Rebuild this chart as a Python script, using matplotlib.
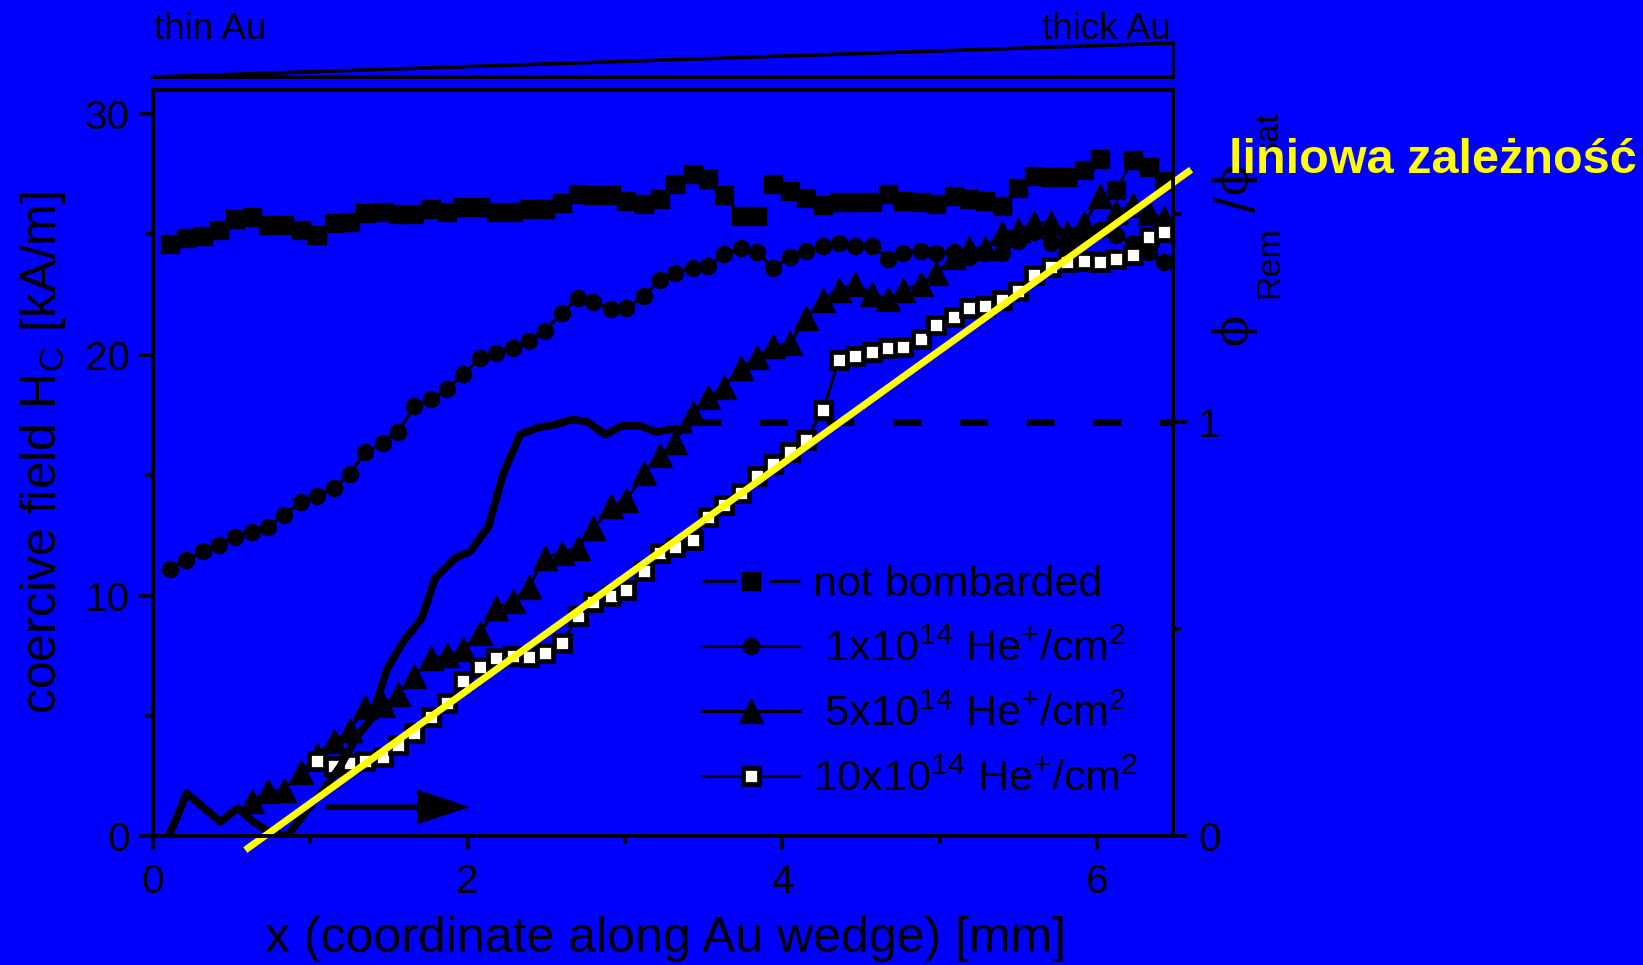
import matplotlib
matplotlib.use("Agg")
import matplotlib.pyplot as plt
from matplotlib import transforms

plt.rcParams["font.family"] = ["Liberation Sans", "DejaVu Sans"]
plt.rcParams["mathtext.fontset"] = "custom"
plt.rcParams["mathtext.rm"] = "Liberation Sans"
plt.rcParams["mathtext.sf"] = "Liberation Sans"
plt.rcParams["mathtext.bf"] = "Liberation Sans:bold"
plt.rcParams["mathtext.it"] = "Liberation Sans:italic"

BLUE = "#0000FF"
YELLOW = "#FFFF00"

# measurement positions along the wedge [mm]
x_pos = [0.11, 0.21, 0.32, 0.42, 0.52, 0.63, 0.73, 0.83, 0.94, 1.04,
         1.15, 1.25, 1.35, 1.46, 1.56, 1.66, 1.77, 1.87, 1.97, 2.08,
         2.18, 2.29, 2.39, 2.49, 2.60, 2.70, 2.80, 2.91, 3.01, 3.12,
         3.22, 3.32, 3.43, 3.53, 3.63, 3.74, 3.84, 3.94, 4.05, 4.15,
         4.26, 4.36, 4.46, 4.57, 4.67, 4.77, 4.88, 4.98, 5.09, 5.19,
         5.29, 5.40, 5.50, 5.60, 5.71, 5.81, 5.92, 6.02, 6.12, 6.23,
         6.33, 6.43]

# coercive field H_C [kA/m]
hc_unbombarded = [24.60, 24.86, 24.94, 25.17, 25.64, 25.71, 25.39, 25.39, 25.17, 24.99,
                  25.46, 25.51, 25.89, 25.95, 25.86, 25.86, 26.04, 25.95, 26.12, 26.12,
                  25.94, 25.95, 26.07, 26.07, 26.29, 26.70, 26.65, 26.65, 26.37, 26.27,
                  26.46, 27.10, 27.53, 27.31, 26.62, 25.77, 25.77, 27.09, 26.81, 26.51,
                  26.23, 26.33, 26.33, 26.33, 26.68, 26.37, 26.33, 26.26, 26.58, 26.48,
                  26.40, 26.18, 26.93, 27.41, 27.37, 27.37, 27.67, 28.14, 26.86, 28.10,
                  27.82, 27.20]

hc_dose1 = [11.10, 11.48, 11.84, 12.11, 12.43, 12.66, 12.85, 13.34, 13.88, 14.14,
            14.45, 15.04, 15.96, 16.33, 16.81, 17.88, 18.16, 18.57, 19.20, 19.86,
            20.07, 20.30, 20.58, 21.01, 21.73, 22.38, 22.21, 21.90, 21.94, 22.45,
            23.09, 23.42, 23.61, 23.71, 24.17, 24.42, 24.27, 23.61, 24.06, 24.32,
            24.53, 24.64, 24.53, 24.53, 24.00, 24.25, 24.32, 24.22, 24.27, 24.06,
            24.25, 24.25, 24.71, 25.10, 24.64, 24.50, 24.90, 25.19, 24.96, 24.64,
            24.29, 23.84]

# 5e14 series starts at the 6th position, 10e14 series at the 10th
hc_dose5 = [1.46, 1.90, 1.93, 2.67, 3.40, 3.95, 4.42, 5.36, 5.46, 5.90,
            6.66, 7.40, 7.54, 7.77, 8.44, 9.50, 9.78, 10.37, 11.58, 11.79,
            11.99, 12.80, 13.73, 13.98, 15.08, 15.82, 16.40, 17.60, 18.27, 18.68,
            19.45, 19.93, 20.35, 20.49, 21.52, 22.29, 22.70, 22.95, 22.53, 22.31,
            22.70, 22.94, 23.39, 24.08, 24.43, 24.43, 25.06, 25.19, 25.47, 25.47,
            25.08, 25.47, 26.58, 25.95, 26.23, 25.89, 25.68]

hc_dose10 = [3.12, 2.93, 3.04, 3.13, 3.30, 3.78, 4.31, 4.97, 5.53, 6.47,
             7.05, 7.40, 7.50, 7.47, 7.63, 8.05, 9.15, 9.75, 10.00, 10.24,
             11.02, 11.76, 12.04, 12.33, 13.28, 13.77, 14.25, 14.98, 15.47, 15.95,
             16.45, 17.71, 19.79, 19.96, 20.11, 20.28, 20.32, 20.65, 21.22, 21.57,
             21.94, 22.04, 22.29, 22.67, 23.32, 23.64, 23.84, 23.91, 23.84, 23.98,
             24.15, 24.89, 25.10]

# remanence ratio Phi_Rem / Phi_sat (right axis)
ratio_x = [0.10, 0.215, 0.32, 0.428, 0.537, 0.637, 0.734, 0.85, 0.977, 1.083,
           1.189, 1.295, 1.39, 1.486, 1.591, 1.708, 1.793, 1.92, 2.015, 2.132,
           2.227, 2.333, 2.439, 2.556, 2.662, 2.757, 2.874, 2.98, 3.096, 3.202,
           3.29, 3.40]
ratio_y = [0.0, 0.104, 0.070, 0.035, 0.068, 0.035, 0.012, 0.0, 0.062, 0.112,
           0.168, 0.241, 0.285, 0.402, 0.470, 0.526, 0.623, 0.671, 0.687, 0.747,
           0.876, 0.969, 0.985, 0.993, 1.005, 1.001, 0.969, 0.990, 0.990, 0.975,
           0.982, 0.980]
saturation_x = [3.433, 6.49]
saturation_y = [1.0, 1.0]

# linear dependence guide
fit_x = [0.587, 6.599]
fit_y = [-0.565, 27.69]

# scan direction arrow
arrow_start = 1.094
arrow_end = 2.015
arrow_level = 1.22

labels = ["not bombarded",
          r" $\mathrm{1x10^{14}\ He^{+}/cm^{2}}$",
          r" $\mathrm{5x10^{14}\ He^{+}/cm^{2}}$",
          r"$\mathrm{10x10^{14}\ He^{+}/cm^{2}}$"]

W, H = 1643, 965
fig = plt.figure(figsize=(W / 100, H / 100), dpi=100, facecolor=BLUE)
ax = fig.add_axes([153 / W, 1 - 836.4 / H, (1173.3 - 153) / W, (836.4 - 90) / H])
ax.set_facecolor(BLUE)
ax2 = ax.twinx()
ax2.set_ylim(0, 1.8)

ratio_tr = transforms.blended_transform_factory(ax.transData, ax2.transData)

l1, = ax.plot(x_pos, hc_unbombarded, color="k", lw=2, dashes=(12.6, 11.5),
              marker="s", ms=13.5, mfc="k", mec="k", mew=1, zorder=3)
l2, = ax.plot(x_pos, hc_dose1, color="k", lw=2.2, marker="o", ms=11.5,
              mfc="k", mec="k", mew=1, zorder=3.1)
l3, = ax.plot(x_pos[5:], hc_dose5, color="k", lw=2.2, marker="^", ms=17,
              mfc="k", mec="k", mew=1, zorder=3.2)
l4, = ax.plot(x_pos[9:], hc_dose10, color="k", lw=2.2, marker="s", ms=12,
              mfc="white", mec="k", mew=3.4, zorder=3.3)

ax.plot(ratio_x, ratio_y, color="k", lw=5.5, transform=ratio_tr, zorder=3.5)
ax.plot(saturation_x, saturation_y, color="k", lw=5, dashes=(4.0, 5.6),
        transform=ratio_tr, zorder=3.5, clip_on=False)

ax.arrow(arrow_start, arrow_level, arrow_end - arrow_start, 0, width=0.22,
         head_width=1.45, head_length=0.337, length_includes_head=True,
         fc="k", ec="k", lw=0, zorder=3.6)

ax.plot(fit_x, fit_y, color=YELLOW, lw=5, solid_capstyle="butt",
        clip_on=False, zorder=6)

ax.set_xlim(0, 6.486)
ax.set_ylim(0, 31)
ax.set_xticks([0, 2, 4, 6])
ax.set_xticks([1, 3, 5], minor=True)
ax.set_yticks([0, 10, 20, 30])
ax.set_yticks([5, 15, 25], minor=True)
ax2.set_yticks([0, 1])
ax2.set_yticks([0.5, 1.5], minor=True)

for a in (ax, ax2):
    a.tick_params(which="both", direction="out", width=2.6, color="k",
                  labelsize=29, labelcolor="k")
    a.tick_params(which="major", length=10)
    a.tick_params(which="minor", length=5.5)
    for s in a.spines.values():
        s.set_linewidth(2.8)
        s.set_color("k")
ax.tick_params(axis="y", pad=7, right=False)
ax.tick_params(axis="x", pad=9, top=False)
ax2.tick_params(axis="y", pad=8)
ax2.set_yticklabels(["0", "1"])

ax.set_xlabel("x (coordinate along Au wedge) [mm]", fontsize=36)
ax.xaxis.label.set_va("baseline")
ax.xaxis.set_label_coords(0.502, -0.1545)
ax.set_ylabel(r"coercive field $\mathrm{H_C}$ [kA/m]", fontsize=36)
ax.yaxis.set_label_coords(-0.0832, 0.5137)

# right-hand axis title, built piece by piece: phi_Rem / phi_sat
def rtext(px, py, s, size, family=None):
    kw = dict(rotation=90, ha="center", va="baseline", fontsize=size,
              rotation_mode="anchor")
    if family:
        kw["family"] = family
    fig.text(px / W, 1 - py / H, s, **kw)

phi_font = ["DejaVu Serif"]
rtext(1246, 329.5, "\u03d5", 33, phi_font)
rtext(1278, 262, "Rem", 24.5)
rtext(1255, 204.5, "/", 40)
rtext(1246, 178.5, "\u03d5", 33, phi_font)
rtext(1278, 135, "sat", 24.5)

# Au wedge sketch above the frame
ax.plot([0, 1], [1.0174, 1.0629], color="k", lw=2.6, transform=ax.transAxes, clip_on=False)
ax.plot([0, 1], [1.0174, 1.0174], color="k", lw=2.8, transform=ax.transAxes, clip_on=False)
ax.plot([1, 1], [1.0174, 1.0629], color="k", lw=1.8, transform=ax.transAxes, clip_on=False)
fig.text(154 / W, 1 - 39 / H, "thin Au", fontsize=26.5, ha="left", va="baseline")
fig.text(1171 / W, 1 - 39 / H, "thick Au", fontsize=26.5, ha="right", va="baseline")

ax.legend([l1, l2, l3, l4], labels, loc="upper left",
          bbox_to_anchor=(702.4 / W, 1 - 565.4 / H), bbox_transform=fig.transFigure,
          frameon=False, fontsize=31, handlelength=2.27, handletextpad=0.3,
          labelspacing=0.57, borderpad=0, borderaxespad=0, numpoints=1)

fig.text(1229 / W, 1 - 173.3 / H, "liniowa zależność", color=YELLOW, fontsize=35,
         fontweight="bold", ha="left", va="baseline", zorder=10)

fig.savefig("out.png", dpi=100, facecolor=BLUE)
